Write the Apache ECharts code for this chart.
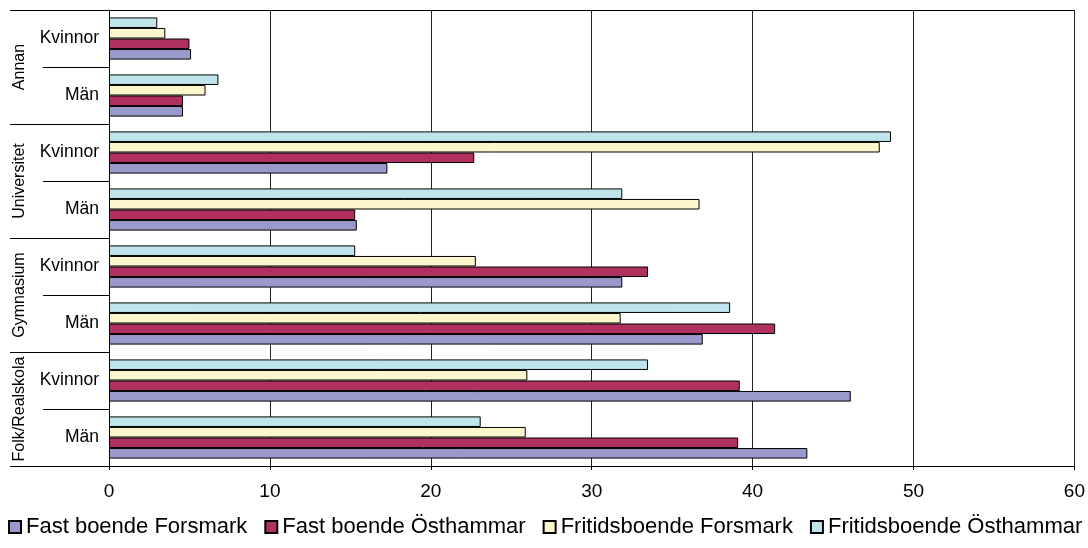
<!DOCTYPE html>
<html>
<head>
<meta charset="utf-8">
<script src="https://cdn.jsdelivr.net/npm/echarts@6/dist/echarts.min.js"></script>
<style>
html,body{margin:0;padding:0;background:#fff;}
#chart{width:1088px;height:548px;}
</style>
</head>
<body>
<div id="chart"></div>
<script>
// Categories, bottom to top
const subCategories = ['Män','Kvinnor','Män','Kvinnor','Män','Kvinnor','Män','Kvinnor'];
const groups = ['Folk/Realskola','Gymnasium','Universitet','Annan'];
const seriesNames = ['Fast boende Forsmark','Fast boende Östhammar','Fritidsboende Forsmark','Fritidsboende Östhammar'];
const fastForsmark   = [43.4, 46.1, 36.9, 31.9, 15.4, 17.3, 4.6, 5.1];
const fastOsthammar  = [39.1, 39.2, 41.4, 33.5, 15.3, 22.7, 4.6, 5.0];
const fritidForsmark = [25.9, 26.0, 31.8, 22.8, 36.7, 47.9, 6.0, 3.5];
const fritidOsthammar= [23.1, 33.5, 38.6, 15.3, 31.9, 48.6, 6.8, 3.0];
const xTicks = [0,10,20,30,40,50,60];

const colors = ['#9999CC','#B0305F','#FCF6CC','#C0E4EC'];
const values = [fastForsmark, fastOsthammar, fritidForsmark, fritidOsthammar];
const FONT = 'Liberation Sans, Arial, sans-serif';

// draw series in reverse so the first series sits at the bottom of each band
const seriesList = [];
for (let i = seriesNames.length - 1; i >= 0; i--) {
  seriesList.push({
    name:seriesNames[i], type:'bar', yAxisIndex:0, xAxisIndex:0,
    data:values[i],
    barGap:'0%', barCategoryGap:'26%',
    itemStyle:{color:colors[i], borderColor:'#000', borderWidth:1}
  });
}

const chart = echarts.init(document.getElementById('chart'), null, {renderer:'canvas'});
chart.setOption({
  animation:false,
  backgroundColor:'#fff',
  textStyle:{fontFamily:FONT, color:'#000'},
  grid:{left:109, right:13, top:10, bottom:82, containLabel:false},
  legend:{
    data:seriesNames,
    left:3, top:511,
    itemWidth:12, itemHeight:12, itemGap:17,
    icon:'rect',
    textStyle:{fontFamily:FONT, fontSize:22, color:'#000'}
  },
  xAxis:[{
    type:'value', min:xTicks[0], max:xTicks[xTicks.length-1], interval:10,
    axisLine:{show:true, lineStyle:{color:'#000', width:1}},
    axisTick:{show:true, length:4, lineStyle:{color:'#000'}},
    axisLabel:{fontFamily:FONT, fontSize:19, color:'#000', margin:16},
    splitLine:{show:true, lineStyle:{color:'#222', width:1}}
  },{
    type:'value', position:'top', min:xTicks[0], max:xTicks[xTicks.length-1], interval:10,
    axisLine:{show:true, lineStyle:{color:'#000', width:1}},
    axisTick:{show:false}, axisLabel:{show:false}, splitLine:{show:false}
  }],
  yAxis:[{
    type:'category', data:subCategories, position:'left',
    axisLine:{show:true, onZero:false, lineStyle:{color:'#000'}},
    axisTick:{show:true, interval:0, length:66, lineStyle:{color:'#000'}},
    axisLabel:{fontFamily:FONT, fontSize:17.5, color:'#000', margin:10, interval:0}
  },{
    type:'category', data:groups, position:'left', offset:0,
    axisLine:{show:false},
    axisTick:{show:true, interval:0, length:99, lineStyle:{color:'#000'}},
    axisLabel:{fontFamily:FONT, fontSize:16, color:'#000', rotate:90, margin:81, interval:0}
  }],
  series: seriesList
});
</script>
</body>
</html>
